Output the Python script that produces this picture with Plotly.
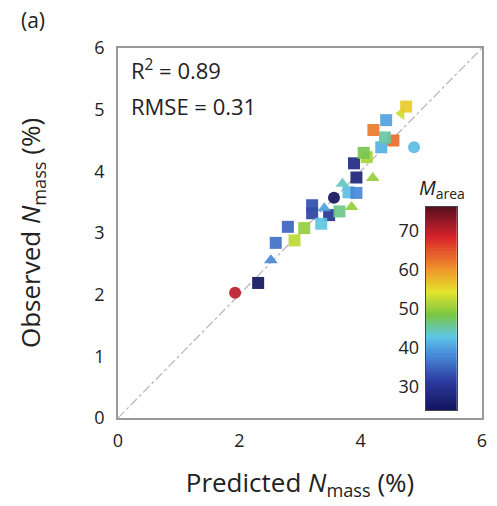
import numpy as np
import plotly.graph_objects as go

# Predicted vs observed leaf N (mass basis), coloured by leaf mass per area
predicted = [1.93, 2.31, 2.52, 2.60, 2.80, 2.91, 3.07, 3.20, 3.20, 3.48, 3.56, 3.40,
             3.80, 3.93, 3.85, 3.65, 3.89, 3.93, 4.20, 4.10, 4.05, 4.42, 4.21, 4.54,
             4.34, 4.88, 4.67, 4.75, 4.40, 3.70, 3.35]
observed = [2.03, 2.19, 2.56, 2.84, 3.10, 2.88, 3.08, 3.32, 3.45, 3.29, 3.57, 3.40,
            3.66, 3.65, 3.42, 3.35, 4.13, 3.90, 3.89, 4.23, 4.30, 4.83, 4.67, 4.50,
            4.39, 4.39, 4.94, 5.05, 4.55, 3.80, 3.15]
m_area = [70, 22, 38, 36, 35, 52, 50, 32, 33, 30, 22, 40,
          42, 38, 50, 46, 28, 27, 50, 51, 48, 40, 62, 63,
          41, 42, 53, 56, 45, 44, 43]
symbols = ["circle", "square", "triangle-up", "square", "square", "square", "square",
           "square", "square", "square", "circle", "triangle-up",
           "square", "square", "triangle-up", "square", "square", "square",
           "triangle-up", "square", "square", "square", "square", "square",
           "square", "circle", "triangle-left", "square", "square", "triangle-up", "square"]

axis_ticks = [0, 2, 4, 6]
y_ticks = [0, 1, 2, 3, 4, 5, 6]
cbar_ticks = [30, 40, 50, 60, 70]
cbar_range = [24, 76]
one_to_one = [0, 6]

jet_muted = [
    [0.00, "#14145e"],
    [0.14, "#2b3a9e"],
    [0.28, "#4a8fdc"],
    [0.36, "#5ec6e6"],
    [0.47, "#79c644"],
    [0.58, "#e4e42c"],
    [0.70, "#f0902a"],
    [0.85, "#d8232c"],
    [1.00, "#5a0f1e"],
]

font = "Open Sans, Liberation Sans, sans-serif"
ink = "#222"

fig = go.Figure()

fig.add_trace(go.Scatter(
    x=one_to_one, y=one_to_one, mode="lines",
    line=dict(color="#b5b5b5", width=1.2, dash="dashdot"),
    hoverinfo="skip", showlegend=False,
))

fig.add_trace(go.Scatter(
    x=predicted, y=observed, mode="markers",
    marker=dict(
        size=12, symbol=symbols, color=m_area,
        cmin=cbar_range[0], cmax=cbar_range[1], colorscale=jet_muted,
        opacity=0.92, line=dict(width=0), showscale=False,
    ),
    showlegend=False,
))

# Inset colour ramp with labels on its left side
ramp = np.linspace(cbar_range[0], cbar_range[1], 200)
fig.add_trace(go.Heatmap(
    z=ramp.reshape(-1, 1), y=ramp, x=[0],
    colorscale=jet_muted, zmin=cbar_range[0], zmax=cbar_range[1],
    showscale=False, hoverinfo="skip",
    xaxis="x2", yaxis="y2",
))

fig.add_annotation(x=0.03, y=0.99, xref="paper", yref="paper",
                   text="R<sup>2</sup> = 0.89", showarrow=False,
                   xanchor="left", yanchor="top",
                   font=dict(family=font, size=22, color=ink))
fig.add_annotation(x=0.03, y=0.89, xref="paper", yref="paper",
                   text="RMSE = 0.31", showarrow=False,
                   xanchor="left", yanchor="top",
                   font=dict(family=font, size=22, color=ink))
fig.add_annotation(x=-0.233, y=1.076, xref="paper", yref="paper",
                   text="(a)", showarrow=False, xanchor="center", yanchor="middle",
                   font=dict(family=font, size=21, color=ink))
fig.add_annotation(x=0.889, y=0.575, xref="paper", yref="paper",
                   text="<i>M</i><sub>area</sub>", showarrow=False,
                   xanchor="center", yanchor="bottom",
                   font=dict(family=font, size=20, color=ink))

axis_common = dict(
    showgrid=False, zeroline=False, showline=True, mirror=True,
    linecolor="#999", linewidth=1.5, ticks="",
    tickfont=dict(family=font, size=18, color=ink),
    range=[0, 6],
)

fig.update_layout(
    width=497, height=506,
    margin=dict(l=118, r=10, t=48, b=88),
    plot_bgcolor="white", paper_bgcolor="white",
    xaxis=dict(
        **axis_common, tickvals=axis_ticks, ticklabelstandoff=6,
        title=dict(text="Predicted <i>N</i><sub>mass</sub> (%)", standoff=22,
                   font=dict(family=font, size=26, color=ink)),
    ),
    yaxis=dict(
        **axis_common, tickvals=y_ticks, ticklabelstandoff=8,
        title=dict(text="Observed <i>N</i><sub>mass</sub> (%)", standoff=46,
                   font=dict(family=font, size=26, color=ink)),
    ),
    xaxis2=dict(domain=[0.8455, 0.932], anchor="y2", showticklabels=False,
                showgrid=False, zeroline=False, showline=True, mirror=True,
                linecolor="#444", linewidth=1, ticks=""),
    yaxis2=dict(domain=[0.0216, 0.570], anchor="x2", range=cbar_range,
                tickvals=cbar_ticks, side="left", showgrid=False, zeroline=False,
                showline=True, mirror=True, linecolor="#444", linewidth=1,
                ticks="", ticklabelstandoff=2,
                tickfont=dict(family=font, size=18, color=ink)),
)

fig.write_html("out.html")
